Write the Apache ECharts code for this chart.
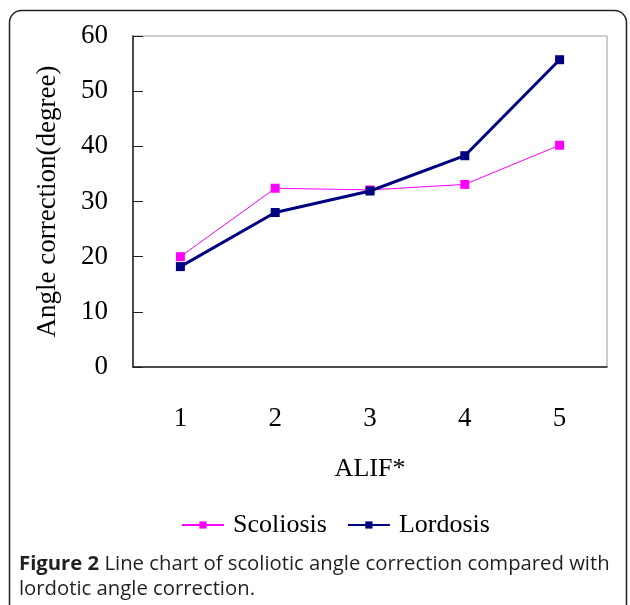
<!DOCTYPE html>
<html><head><meta charset="utf-8">
<script src="https://cdn.jsdelivr.net/npm/echarts@6/dist/echarts.min.js"></script>
<style>html,body{margin:0;padding:0;background:#fff}#c{width:630px;height:605px}</style>
</head><body><div id="c"></div>
<script>
const categories = ['1', '2', '3', '4', '5'];
const scoliosis = [20.0, 32.4, 32.1, 33.1, 40.2];
const lordosis = [18.2, 28.0, 31.9, 38.3, 55.7];
const yTicks = [0, 10, 20, 30, 40, 50, 60];

const serif = 'Liberation Serif';
const chart = echarts.init(document.getElementById('c'));
chart.setOption({
  animation: false,
  backgroundColor: '#fff',
  title: {
    left: 14, top: 547,
    text: '{b|Figure 2} Line chart of scoliotic angle correction compared with\nlordotic angle correction.',
    textStyle: {
      fontFamily: 'Open Sans', fontSize: 20.3, color: '#231f20', lineHeight: 25, fontWeight: 'normal',
      rich: { b: { fontFamily: 'Open Sans', fontSize: 20.3, fontWeight: 'bold', color: '#231f20' } }
    }
  },
  graphic: [{
    type: 'rect', shape: { x: 9.5, y: 10.5, width: 617, height: 640, r: 12 },
    style: { fill: 'none', stroke: '#222', lineWidth: 1.5 }, z: -1
  }],
  legend: {
    top: 507, left: 176, itemGap: 20, itemWidth: 42, itemHeight: 9,
    textStyle: { fontFamily: serif, fontSize: 26, color: '#000', padding: [0, 0, 0, 4] },
    data: ['Scoliosis', 'Lordosis']
  },
  grid: { left: 133, top: 36, right: 23, bottom: 238, show: true, borderColor: '#9a9a9a', borderWidth: 1 },
  xAxis: {
    type: 'category', data: categories, boundaryGap: true,
    name: 'ALIF*', nameLocation: 'middle', nameGap: 89,
    nameTextStyle: { fontFamily: serif, fontSize: 26, color: '#000' },
    axisLine: { lineStyle: { color: '#222', width: 1.5 } },
    axisTick: { inside: true, length: 8, lineStyle: { color: '#222' } },
    axisLabel: { fontFamily: serif, fontSize: 27, color: '#000', margin: 38 },
    splitLine: { show: false }
  },
  yAxis: {
    type: 'value', min: yTicks[0], max: yTicks[yTicks.length - 1], interval: 10,
    name: 'Angle correction(degree)', nameLocation: 'middle', nameGap: 72, nameRotate: 90,
    nameTextStyle: { fontFamily: serif, fontSize: 27, color: '#000' },
    axisLine: { show: true, lineStyle: { color: '#222', width: 1.5 } },
    axisTick: { show: true, inside: true, length: 10, lineStyle: { color: '#222' } },
    axisLabel: { fontFamily: serif, fontSize: 27, color: '#000', margin: 25, padding: [5, 0, 0, 0] },
    splitLine: { show: false }
  },
  series: [
    {
      name: 'Scoliosis', type: 'line', data: scoliosis,
      symbol: 'rect', symbolSize: 9,
      lineStyle: { color: '#ff00ff', width: 1 },
      itemStyle: { color: '#ff00ff' }, z: 2
    },
    {
      name: 'Lordosis', type: 'line', data: lordosis,
      symbol: 'rect', symbolSize: 9,
      lineStyle: { color: '#000080', width: 3 },
      itemStyle: { color: '#000080' }, z: 3
    }
  ]
});
</script></body></html>
